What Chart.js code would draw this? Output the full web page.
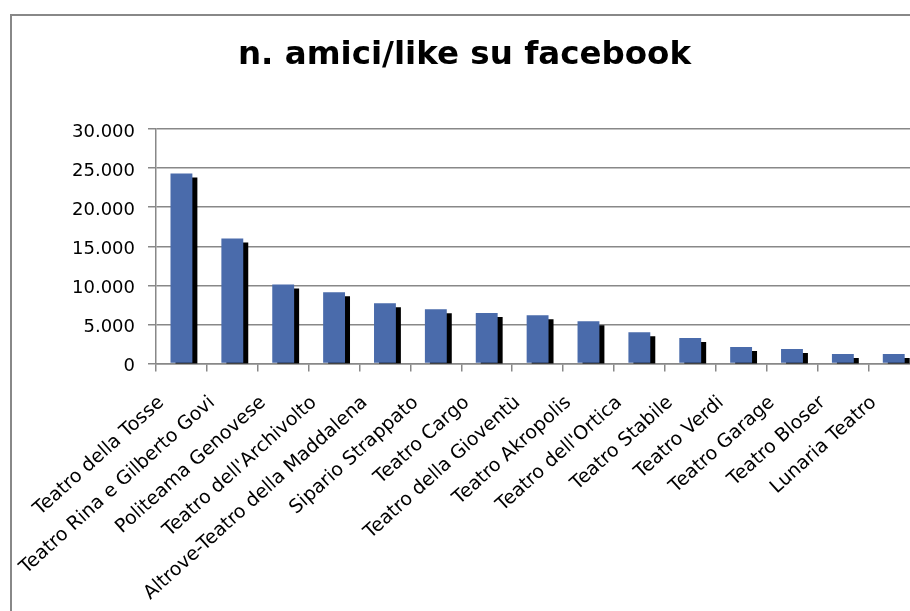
<!DOCTYPE html>
<html>
<head>
<meta charset="utf-8">
<script src="https://cdn.jsdelivr.net/npm/chart.js@4.4.0/dist/chart.umd.min.js"></script>
<style>
  html, body { margin: 0; padding: 0; background: #fff; overflow: hidden; }
  #wrap { position: relative; width: 910px; height: 611px; overflow: hidden; }
  #frame { position: absolute; left: 10px; top: 14px; width: 1000px; height: 1000px;
           border: 2px solid #888; pointer-events: none; }
  #c { position: absolute; left: 0; top: 0; }
</style>
</head>
<body>
<div id="wrap">
  <canvas id="c" width="929" height="611"></canvas>
  <div id="frame"></div>
</div>
<script>
const theatres = [
  'Teatro della Tosse', 'Teatro Rina e Gilberto Govi', 'Politeama Genovese',
  "Teatro dell'Archivolto", 'Altrove-Teatro della Maddalena', 'Sipario Strappato',
  'Teatro Cargo', 'Teatro della Gioventù', 'Teatro Akropolis', "Teatro dell'Ortica",
  'Teatro Stabile', 'Teatro Verdi', 'Teatro Garage', 'Teatro Bloser', 'Lunaria Teatro'
];
const friends = [24300, 16000, 10100, 9100, 7700, 6950, 6450, 6180, 5400, 4000, 3250, 2100, 1850, 1200, 1200];
const yTicks = [0, 5000, 10000, 15000, 20000, 25000, 30000];

const gridGrey = '#888888';
const fmt = v => String(v).replace(/\B(?=(\d{3})+(?!\d))/g, '.');

// ombra nera spostata come nel grafico excel
const barShadow = {
  id: 'barShadow',
  beforeDatasetDraw(chart) {
    const ctx = chart.ctx;
    ctx.save();
    ctx.shadowColor = '#000';
    ctx.shadowOffsetX = 5;
    ctx.shadowOffsetY = 4;
    ctx.shadowBlur = 0;
  },
  afterDatasetDraw(chart) {
    chart.ctx.restore();
  }
};

new Chart(document.getElementById('c'), {
  type: 'bar',
  data: {
    labels: theatres,
    datasets: [{
      label: 'n. amici/like su facebook',
      data: friends,
      backgroundColor: '#4a6bab',
      borderWidth: 0,
      barPercentage: 0.43,
      categoryPercentage: 1
    }]
  },
  plugins: [barShadow],
  options: {
    responsive: false,
    animation: false,
    layout: { padding: 0 },
    plugins: {
      legend: { display: false },
      tooltip: { enabled: false },
      title: {
        display: true,
        text: 'n. amici/like su facebook',
        color: '#000',
        font: { family: 'DejaVu Sans', size: 32.5, weight: 'bold', lineHeight: 1.2 },
        padding: { top: 36, bottom: 54 }
      }
    },
    scales: {
      x: {
        afterFit(scale) { scale.height = 247.5; },
        grid: { drawOnChartArea: false, drawTicks: true, tickLength: 8, color: gridGrey, lineWidth: 1.5, offset: true },
        border: { display: true, color: gridGrey, width: 1.5 },
        ticks: {
          color: '#000',
          font: { family: 'DejaVu Sans', size: 19 },
          maxRotation: 42,
          minRotation: 42,
          autoSkip: false,
          padding: 20,
          labelOffset: -20
        }
      },
      y: {
        min: 0,
        max: 30000,
        afterFit(scale) { scale.width = 156; },
        afterBuildTicks(scale) { scale.ticks = yTicks.map(v => ({ value: v })); },
        grid: { color: gridGrey, lineWidth: 1.5, tickLength: 8 },
        border: { display: true, color: gridGrey, width: 1.5 },
        ticks: {
          color: '#000',
          font: { family: 'DejaVu Sans', size: 18 },
          padding: 13,
          labelOffset: 3,
          callback: v => fmt(v)
        }
      }
    }
  }
});
</script>
</body>
</html>
